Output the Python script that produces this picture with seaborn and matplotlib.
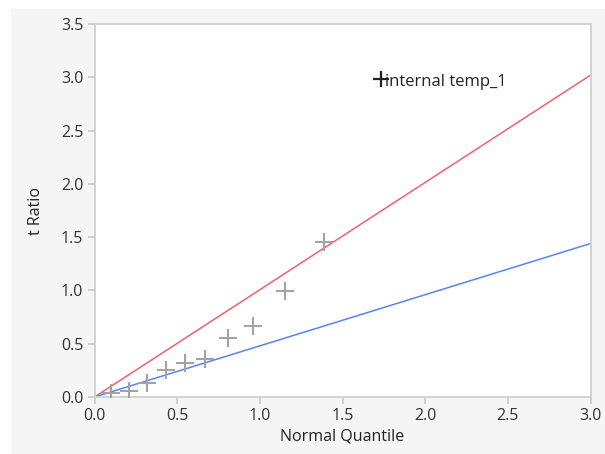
import matplotlib
matplotlib.use("Agg")
import matplotlib.pyplot as plt
import seaborn as sns
import pandas as pd
from matplotlib.patches import Rectangle

# Data
normal_quantile = [0.10, 0.21, 0.32, 0.43, 0.55, 0.67, 0.81, 0.96, 1.15, 1.39]
t_ratio = [0.04, 0.06, 0.13, 0.25, 0.32, 0.36, 0.55, 0.67, 0.99, 1.45]

label_x = [1.73]
label_y = [2.98]
label_text = "internal temp_1"

line_x = [0.0, 3.0]
red_line_y = [0.0, 3.02]
blue_line_y = [0.0, 1.44]

x_ticks = [0.0, 0.5, 1.0, 1.5, 2.0, 2.5, 3.0]
y_ticks = [0.0, 0.5, 1.0, 1.5, 2.0, 2.5, 3.0, 3.5]

sns.set_theme(style="white")
plt.rcParams['font.family'] = ['Open Sans', 'DejaVu Sans']

fig = plt.figure(figsize=(6.05, 4.54), dpi=100, facecolor='white')
fig.patches.append(Rectangle((11 / 605, 0), 1 - 11 / 605, 1 - 9 / 454,
                             transform=fig.transFigure, facecolor='#f5f5f5',
                             edgecolor='none', zorder=-10))
ax = fig.add_axes([94.5 / 605, 1 - 397 / 454, (590.5 - 94.5) / 605, (397 - 24) / 454])
ax.set_facecolor('white')

df_lines = pd.DataFrame({'x': line_x * 2,
                         'y': red_line_y + blue_line_y,
                         'line': ['red'] * 2 + ['blue'] * 2})
sns.lineplot(data=df_lines, x='x', y='y', hue='line',
             palette={'red': '#f0606e', 'blue': '#5585f0'},
             linewidth=1.1, legend=False, ax=ax, zorder=2)

df_pts = pd.DataFrame({'q': normal_quantile, 't': t_ratio})
sns.scatterplot(data=df_pts, x='q', y='t', marker='+', s=170,
                color='#a3a3a3', linewidth=1.5, ax=ax, zorder=3)

df_lab = pd.DataFrame({'q': label_x, 't': label_y})
sns.scatterplot(data=df_lab, x='q', y='t', marker='+', s=130,
                color='#222222', linewidth=1.6, ax=ax, zorder=4)
ax.text(label_x[0] + 0.025, label_y[0] - 0.02, label_text, fontsize=12,
        color='#222222', va='center', ha='left')

ax.set_xlim(0, 3.0)
ax.set_ylim(0, 3.5)
ax.set_xticks(x_ticks)
ax.set_yticks(y_ticks)
ax.set_xticklabels([f"{v:.1f}" for v in x_ticks])
ax.set_yticklabels([f"{v:.1f}" for v in y_ticks])

for s in ax.spines.values():
    s.set_visible(True)
    s.set_color('#d0d0d0')
    s.set_linewidth(1.3)

ax.tick_params(axis='both', direction='out', length=5, width=1.2,
               color='#c8c8c8', labelsize=11.5, labelcolor='#333333',
               bottom=True, left=True, pad=3)

ax.set_xlabel('Normal Quantile', fontsize=11.5, color='#222222', labelpad=3)
ax.set_ylabel('t Ratio', fontsize=11.5, color='#222222', labelpad=12)

fig.savefig('out.png', dpi=100, facecolor=fig.get_facecolor())
